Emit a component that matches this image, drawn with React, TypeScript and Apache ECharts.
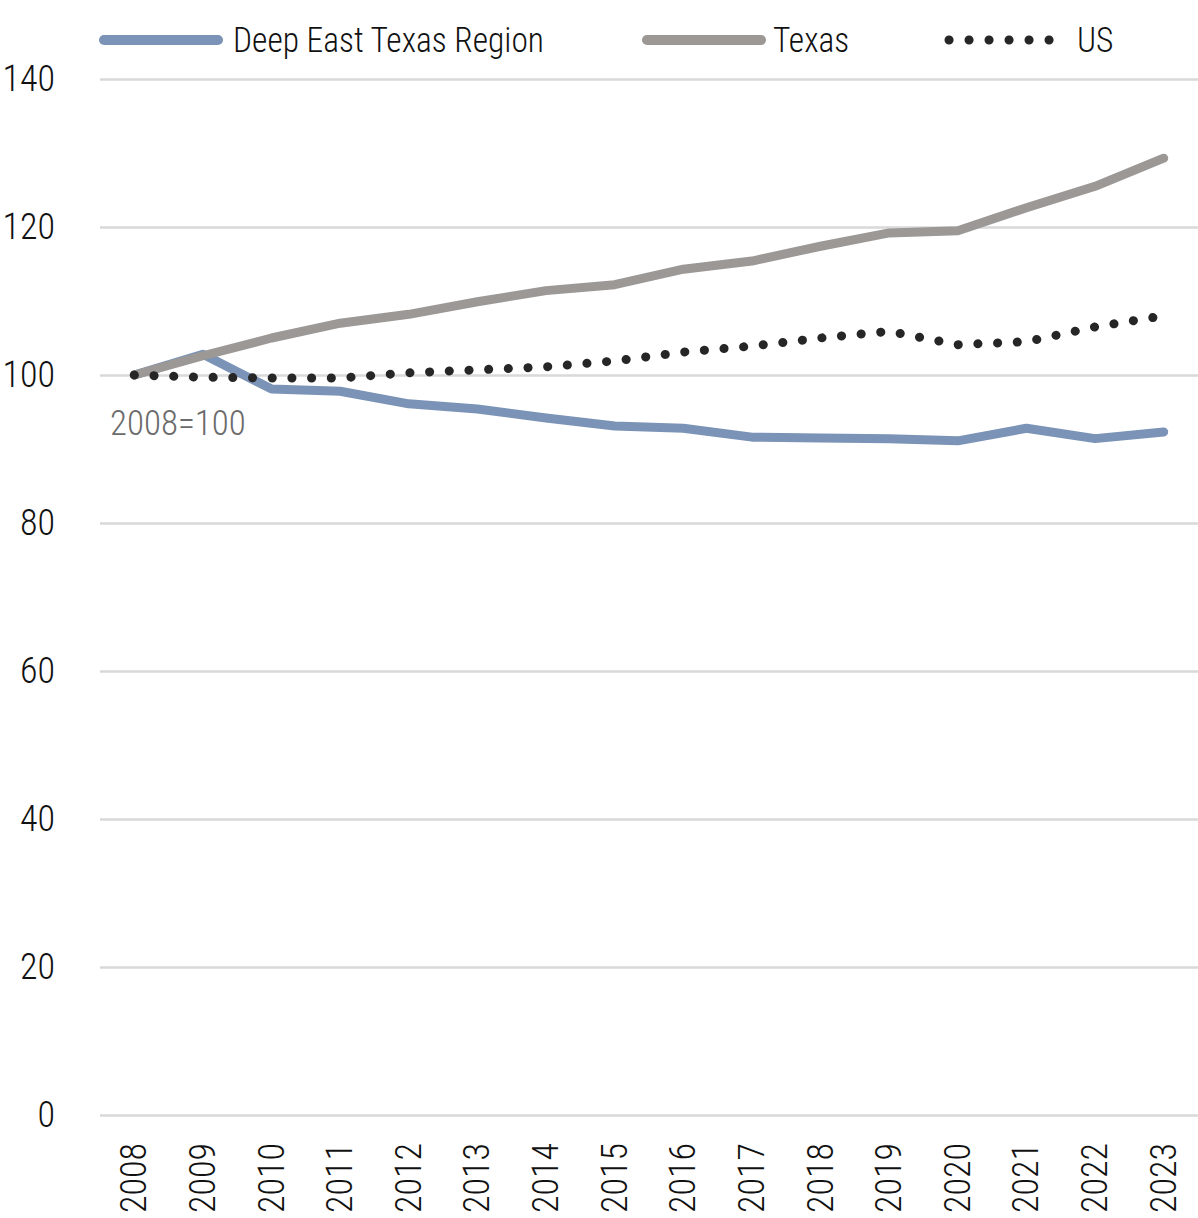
import React, { useEffect, useRef } from "react";
import * as echarts from "echarts";

const years = ["2008","2009","2010","2011","2012","2013","2014","2015","2016","2017","2018","2019","2020","2021","2022","2023"];
const deepEast = [100, 102.8, 98.1, 97.8, 96.1, 95.4, 94.2, 93.1, 92.8, 91.6, 91.5, 91.4, 91.1, 92.8, 91.4, 92.3];
const texas = [100, 102.6, 105.0, 107.0, 108.2, 109.9, 111.4, 112.2, 114.3, 115.4, 117.4, 119.2, 119.5, 122.6, 125.5, 129.3];
const us = [100, 99.7, 99.6, 99.6, 100.3, 100.7, 101.1, 101.9, 103.1, 103.9, 105.0, 105.9, 104.1, 104.5, 106.5, 108.0];
const seriesNames = ["Deep East Texas Region", "Texas", "US"];
const yTicks = { min: 0, max: 140, interval: 20 };
const note = "2008=100";

const FONT = "'Roboto Condensed', 'Liberation Sans', sans-serif";
const COLORS = ["#7b93b6", "#9b9896", "#262626"];
const FW = 300;

export default function App() {
  const ref = useRef<HTMLDivElement>(null);
  useEffect(() => {
    if (!ref.current) return;
    const chart = echarts.init(ref.current, null, { renderer: "svg" });
    const legendY = 40;
    const legendItems = [
      { x0: 104, x1: 218, tx: 233, dotted: false },
      { x0: 647, x1: 761, tx: 773, dotted: false },
      { x0: 949, x1: 1055, tx: 1077, dotted: true },
    ];
    const legendGraphics: any[] = [];
    legendItems.forEach((it, i) => {
      legendGraphics.push({
        type: "line",
        shape: { x1: it.x0, y1: legendY, x2: it.x1, y2: legendY },
        style: {
          stroke: COLORS[i],
          lineWidth: it.dotted ? 9 : 10,
          lineCap: "round",
          lineDash: it.dotted ? [0.1, 19.9] : null,
        },
      });
      legendGraphics.push({
        type: "text",
        x: it.tx,
        y: legendY,
        scaleX: 0.93,
        style: {
          text: seriesNames[i],
          fontSize: 36,
          fontWeight: FW,
          fill: "#111",
          fontFamily: FONT,
          verticalAlign: "middle",
          align: "left",
        },
      });
    });
    chart.setOption({
      animation: false,
      textStyle: { fontFamily: FONT },
      grid: { left: 100, right: 0, top: 79, bottom: 103, containLabel: false, outerBoundsMode: "none" },
      xAxis: {
        type: "category",
        data: years,
        boundaryGap: true,
        axisLine: { show: false },
        axisTick: { show: false },
        axisLabel: { rotate: 90, fontSize: 36, fontWeight: FW, color: "#111", margin: 28, fontFamily: FONT },
      },
      yAxis: {
        type: "value",
        min: yTicks.min,
        max: yTicks.max,
        interval: yTicks.interval,
        axisLine: { show: false },
        axisTick: { show: false },
        axisLabel: { fontSize: 36, fontWeight: FW, color: "#111", margin: 45, fontFamily: FONT },
        splitLine: { lineStyle: { color: "#d9d9d9", width: 2.5 } },
      },
      series: [
        {
          name: seriesNames[0],
          type: "line",
          data: deepEast,
          symbol: "none",
          lineStyle: { color: COLORS[0], width: 9, cap: "round", join: "round" },
          itemStyle: { color: COLORS[0] },
        },
        {
          name: seriesNames[1],
          type: "line",
          data: texas,
          symbol: "none",
          lineStyle: { color: COLORS[1], width: 9, cap: "round", join: "round" },
          itemStyle: { color: COLORS[1] },
        },
        {
          name: seriesNames[2],
          type: "line",
          data: us,
          symbol: "none",
          lineStyle: { color: COLORS[2], width: 9, type: [0.1, 19.6], cap: "round", join: "round" },
          itemStyle: { color: COLORS[2] },
        },
      ],
      graphic: [
        ...legendGraphics,
        {
          type: "text",
          x: 110,
          y: 423,
          scaleX: 0.97,
          style: { text: note, fontSize: 36, fontWeight: FW, fill: "#6b6b6b", fontFamily: FONT, verticalAlign: "middle" },
        },
      ],
    });
    return () => chart.dispose();
  }, []);
  return <div ref={ref} style={{ position: "absolute", left: 0, top: 0, width: 1198, height: 1218 }} />;
}
